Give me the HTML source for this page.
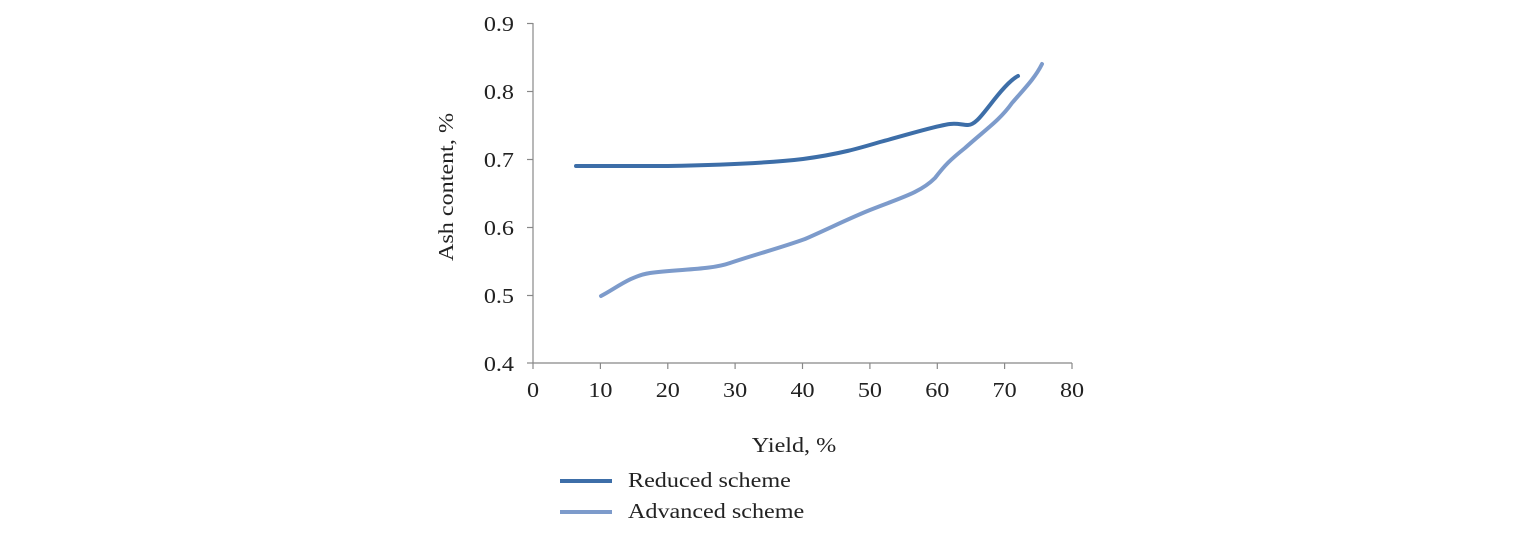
<!DOCTYPE html>
<html><head><style>
body{margin:0;background:#fff;}
svg text{font-family:"Liberation Serif",serif;fill:#222;}
</style></head><body>
<svg width="1520" height="528" xmlns="http://www.w3.org/2000/svg">
<g stroke="#888" stroke-width="1.2" fill="none">
<line x1="533" y1="23" x2="533" y2="363"/>
<line x1="533" y1="363" x2="1072" y2="363"/>
<line x1="527" y1="23.5" x2="533" y2="23.5"/>
<line x1="527" y1="91.5" x2="533" y2="91.5"/>
<line x1="527" y1="159.5" x2="533" y2="159.5"/>
<line x1="527" y1="227.5" x2="533" y2="227.5"/>
<line x1="527" y1="295.5" x2="533" y2="295.5"/>
<line x1="527" y1="363" x2="533" y2="363"/>
<line x1="533" y1="363" x2="533" y2="369"/>
<line x1="600.4" y1="363" x2="600.4" y2="369"/>
<line x1="667.8" y1="363" x2="667.8" y2="369"/>
<line x1="735.1" y1="363" x2="735.1" y2="369"/>
<line x1="802.5" y1="363" x2="802.5" y2="369"/>
<line x1="869.9" y1="363" x2="869.9" y2="369"/>
<line x1="937.3" y1="363" x2="937.3" y2="369"/>
<line x1="1004.6" y1="363" x2="1004.6" y2="369"/>
<line x1="1072" y1="363" x2="1072" y2="369"/>
</g>
<g font-size="21" text-anchor="end">
<text transform="translate(514,31) scale(1.15,1)">0.9</text>
<text transform="translate(514,99) scale(1.15,1)">0.8</text>
<text transform="translate(514,167) scale(1.15,1)">0.7</text>
<text transform="translate(514,235) scale(1.15,1)">0.6</text>
<text transform="translate(514,303) scale(1.15,1)">0.5</text>
<text transform="translate(514,371) scale(1.15,1)">0.4</text>
</g>
<g font-size="21" text-anchor="middle">
<text transform="translate(533,397) scale(1.15,1)">0</text>
<text transform="translate(600.4,397) scale(1.15,1)">10</text>
<text transform="translate(667.8,397) scale(1.15,1)">20</text>
<text transform="translate(735.1,397) scale(1.15,1)">30</text>
<text transform="translate(802.5,397) scale(1.15,1)">40</text>
<text transform="translate(869.9,397) scale(1.15,1)">50</text>
<text transform="translate(937.3,397) scale(1.15,1)">60</text>
<text transform="translate(1004.6,397) scale(1.15,1)">70</text>
<text transform="translate(1072,397) scale(1.15,1)">80</text>
<text transform="translate(794,452) scale(1.15,1)">Yield, %</text>
</g>
<text font-size="21" text-anchor="middle" transform="translate(453,187) rotate(-90) scale(1.15,1)">Ash content, %</text>
<path d="M576,166 L668,166 C720,165 770,163 803,159 C840,154 860,148 880,142 C910,134 935,126 950,124 C958,123 962,125 968,125 C975,125 982,115 990,105 C1000,92 1010,80 1018,76" stroke="#3d6ea8" stroke-width="4" fill="none" stroke-linecap="round"/>
<path d="M601,296 C615,289 630,276 650,273 C680,269 710,270 730,263 C760,253 780,248 805,239 C830,228 850,218 870,210 C900,198 920,193 935,178 C945,165 950,160 965,148 C985,130 1000,120 1012,103 C1025,88 1035,78 1042,64" stroke="#7d9bcb" stroke-width="4" fill="none" stroke-linecap="round"/>
<line x1="560" y1="481" x2="612" y2="481" stroke="#3d6ea8" stroke-width="4"/>
<line x1="560" y1="512" x2="612" y2="512" stroke="#7d9bcb" stroke-width="4"/>
<text font-size="21" transform="translate(628,487) scale(1.15,1)">Reduced scheme</text>
<text font-size="21" transform="translate(628,518) scale(1.15,1)">Advanced scheme</text>
</svg>
</body></html>
